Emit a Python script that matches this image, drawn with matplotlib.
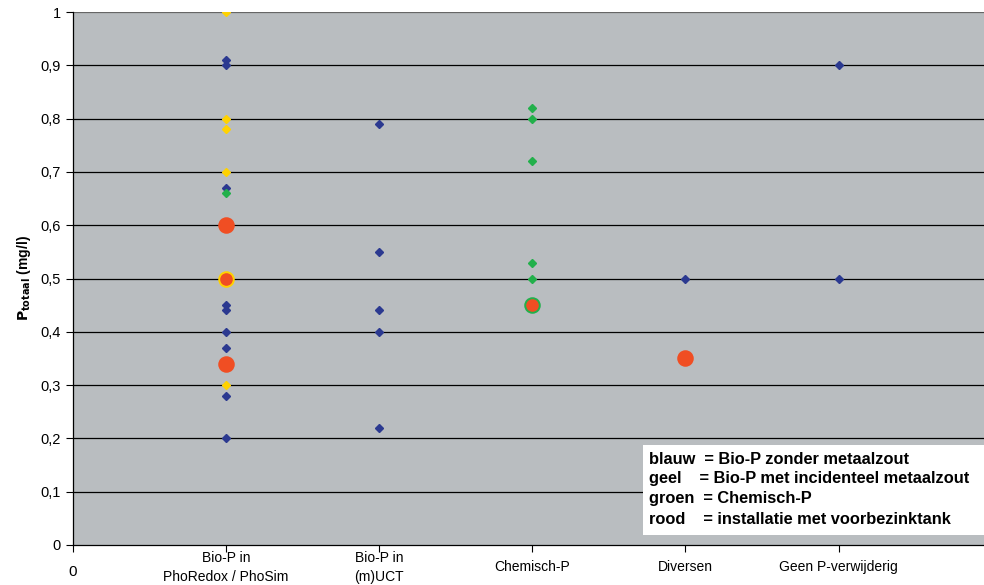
import matplotlib.pyplot as plt
from matplotlib.patches import Rectangle
from matplotlib.ticker import FuncFormatter

# Categories along the x axis (positions 1..5)
categories = ['Bio-P in\nPhoRedox / PhoSim', 'Bio-P in\n(m)UCT', 'Chemisch-P',
              'Diversen', 'Geen P-verwijderig']

# P-totaal values (mg/l) per group, as (category index, value)
blue_x = [1, 1, 1, 1, 1, 1, 1, 1, 1, 2, 2, 2, 2, 2, 4, 5, 5]
blue_y = [0.91, 0.90, 0.67, 0.45, 0.44, 0.40, 0.37, 0.28, 0.20,
          0.79, 0.55, 0.44, 0.40, 0.22, 0.50, 0.90, 0.50]

yellow_x = [1, 1, 1, 1, 1]
yellow_y = [1.00, 0.80, 0.78, 0.70, 0.30]

green_x = [1, 3, 3, 3, 3, 3]
green_y = [0.66, 0.82, 0.80, 0.72, 0.53, 0.50]

# installations with a primary settling tank; edge colour shows the process type
red_x = [1, 1, 1, 3, 4]
red_y = [0.60, 0.50, 0.34, 0.45, 0.35]
red_edge = ['#F04E23', '#FFD200', '#F04E23', '#22B04B', '#F04E23']

legend_lines = ['blauw  = Bio-P zonder metaalzout',
                'geel    = Bio-P met incidenteel metaalzout',
                'groen  = Chemisch-P',
                'rood    = installatie met voorbezinktank']

BLUE = '#2B3990'
YELLOW = '#FFD200'
GREEN = '#22B04B'
RED = '#F04E23'
BG = '#B9BDC0'

plt.rcParams['font.family'] = ['Liberation Sans', 'DejaVu Sans']

fig = plt.figure(figsize=(9.84, 5.85), dpi=100)
ax = fig.add_axes([73 / 984, 40 / 585, 1 - 73 / 984, 533 / 585])
ax.set_facecolor(BG)

ax.set_xlim(0, 5.95)
ax.set_ylim(0, 1)

for y in [i / 10 for i in range(1, 11)]:
    ax.axhline(y, color='black' if y < 0.95 else '#666666', lw=0.9, zorder=1)

ax.plot(blue_x, blue_y, 'D', color=BLUE, ms=4.4, mec=BLUE, zorder=3)
ax.plot(yellow_x, yellow_y, 'D', color=YELLOW, ms=4.4, mec=YELLOW, zorder=3)
ax.plot(green_x, green_y, 'D', color=GREEN, ms=4.4, mec=GREEN, zorder=3)
for x, y, ec in zip(red_x, red_y, red_edge):
    ax.plot(x, y, 'o', color=RED, ms=10.5, mec=ec, mew=1.4, zorder=4)

ax.set_yticks([i / 10 for i in range(11)])
ax.yaxis.set_major_formatter(FuncFormatter(
    lambda v, p: '0' if v == 0 else ('1' if v == 1 else f'{v:.1f}'.replace('.', ','))))
ax.tick_params(axis='y', direction='out', length=5, width=0.8, labelsize=10.5, pad=4)

ax.set_xticks(range(6))
ax.set_xticklabels([''] + categories)
ax.tick_params(axis='x', direction='out', length=5, width=0.8, pad=11)
for lbl in ax.get_xticklabels():
    lbl.set_family(['Liberation Sans Narrow', 'Liberation Sans'])
    lbl.set_fontsize(10)
    lbl.set_verticalalignment('center')
    lbl.set_linespacing(1.45)

# origin label sits a bit lower than the category names
ax.text(0, -0.051, '0', transform=ax.get_xaxis_transform(), fontsize=11,
        ha='center', va='center', family=['Liberation Sans Narrow', 'Liberation Sans'])

for side in ['top', 'right']:
    ax.spines[side].set_visible(False)
ax.spines['left'].set_linewidth(0.9)
ax.spines['bottom'].set_linewidth(0.9)

ax.set_ylabel(r'$\mathbf{P_{totaal}}$ (mg/l)', fontsize=10, fontweight='bold', labelpad=5)

# legend box drawn in figure coordinates
fig.add_artist(Rectangle((643 / 984, 50 / 585), 341 / 984, 90 / 585,
                         transform=fig.transFigure, facecolor='white',
                         edgecolor='none', zorder=5))
for i, line in enumerate(legend_lines):
    fig.text(649 / 984, (585 - 459 - i * 20) / 585, line, fontsize=11.8,
             fontweight='bold', va='center', ha='left', zorder=6)

fig.savefig('out.png', dpi=100)
